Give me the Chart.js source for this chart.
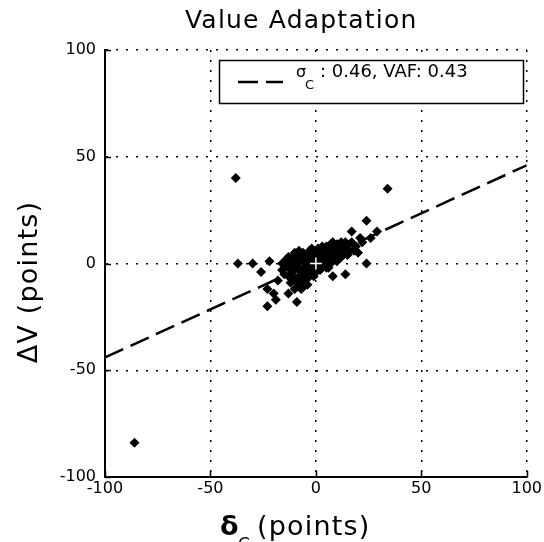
<!DOCTYPE html>
<html>
<head>
<meta charset="utf-8">
<script src="https://cdn.jsdelivr.net/npm/chart.js@4.4.1/dist/chart.umd.min.js"></script>
<style>
  body { margin: 0; background: #fff; }
</style>
</head>
<body>
<canvas id="chart" width="544" height="542"></canvas>
<script>
// change in choice value (x) vs change in value (y), one entry per trial
const deltaC = [
  -86, -38, 34, -37, -30, -26, -22, -16, -18, -20, -19, -23, -13, -9, -23,
  24, 17, 29, 20, 24, 8, 14, 17, 22, 26, -4, -13, -10, -8, -5,
  -2, 2, 5, 8, 11, 14, -15, -12, -10, -8, -6, -3, 0, 3, 6,
  9, 12, 16, 19, -11, -8, -6, -4, -2, 0, 2, 4, 7, 10, -14,
  -9, -7, -5, -1, 1, 3, 5, 8, -12, -7, -3, 1, 13, 11, -16,
  -1, 6, -10, 4, 21,
  -14, -13, -11, -11, -9, -9, -8, -7, -7, -6, -6, -5, -5, -4, -4,
  -3, -3, -2, -2, -1, -1, 0, 0, 1, 1, 2, 2, 3, 3, 4,
  4, 5, 5, 6, 6, 7, 7, 8, 9, 9, 10, 10, 12, 12, 13,
  14, 15, 16, 18, -12, -10, -8, -6, -4
];
const deltaV = [
  -84, 40, 35, 0, 0, -4, 1, 0, -8, -14, -17, -20, -14, -18, -12,
  20, 15, 15, 5, 0, -6, -5, 10, 10, 12, -10, 3, 5, 6, 4,
  7, 6, 8, 10, 9, 10, -5, -3, -7, -10, -8, -6, -4, -2, 0,
  2, 3, 6, 8, 0, -2, 1, -1, 2, 3, 1, 4, 5, 6, 2,
  3, -4, -5, -2, -1, 2, 3, 7, -9, -12, -3, 5, 7, 4, -3,
  0, -2, -12, 7, 12,
  -1, -6, -4, 3, -9, 0, 4, -7, 2, -3, 5, -9, 0, 3, -7,
  6, 0, -4, 4, -6, 6, 0, -2, 2, 7, -3, 4, 8, 0, -1,
  2, 5, -2, 7, 2, 0, 9, 3, 5, 8, 1, 9, 6, 10, 4,
  8, 4, 9, 6, 1, -2, -6, -11, -4
];

// regression line end points
const fitX = [-100, 100];
const fitY = [-44, 46];

const meanPoint = [0, 0];

const xTicks = [-100, -50, 0, 50, 100];
const yTicks = [-100, -50, 0, 50, 100];

const sigmaC = '0.46';
const vaf = '0.43';

const FONT = '"DejaVu Sans", sans-serif';

const trials = deltaC.map((x, i) => ({x: x, y: deltaV[i]}));
const fit = fitX.map((x, i) => ({x: x, y: fitY[i]}));

// text, legend box and inward tick marks drawn on top of the plot
const decorations = {
  id: 'decorations',
  afterDraw(chart) {
    const ctx = chart.ctx;
    const area = chart.chartArea;
    const xs = chart.scales.x;
    const ys = chart.scales.y;
    ctx.save();
    ctx.fillStyle = '#000';
    ctx.strokeStyle = '#000';

    // inward ticks
    ctx.lineWidth = 1.5;
    ctx.beginPath();
    yTicks.forEach(v => {
      const py = Math.round(ys.getPixelForValue(v)) + 0.5;
      ctx.moveTo(area.left, py);
      ctx.lineTo(area.left + 6, py);
    });
    xTicks.forEach(v => {
      const px = Math.round(xs.getPixelForValue(v)) + 0.5;
      ctx.moveTo(px, area.bottom);
      ctx.lineTo(px, area.bottom - 6);
    });
    ctx.stroke();

    // title
    ctx.textBaseline = 'alphabetic';
    ctx.textAlign = 'left';
    ctx.letterSpacing = '1.2px';
    ctx.font = '25px ' + FONT;
    ctx.fillText('Value Adaptation', 185, 28);

    // y axis title
    ctx.save();
    ctx.translate(37, 282);
    ctx.rotate(-Math.PI / 2);
    ctx.textAlign = 'center';
    ctx.font = '27px ' + FONT;
    ctx.fillText('ΔV (points)', 0, 0);
    ctx.restore();

    // x axis title
    ctx.font = 'bold 27px ' + FONT;
    ctx.fillText('δ', 220, 535);
    ctx.font = '17px ' + FONT;
    ctx.fillText('C', 238, 550);
    ctx.font = '27px ' + FONT;
    ctx.fillText('(points)', 257, 535);

    // legend
    ctx.letterSpacing = '0px';
    ctx.fillStyle = '#fff';
    ctx.fillRect(219, 60, 304, 43);
    ctx.lineWidth = 1.5;
    ctx.strokeRect(219.5, 60.5, 304, 43);
    const fitSet = chart.data.datasets[2];
    ctx.setLineDash(fitSet.borderDash);
    ctx.lineWidth = fitSet.borderWidth;
    ctx.beginPath();
    ctx.moveTo(238, 82);
    ctx.lineTo(283, 82);
    ctx.stroke();
    ctx.setLineDash([]);
    ctx.fillStyle = '#000';
    ctx.font = '16px ' + FONT;
    ctx.fillText('σ', 296, 77);
    ctx.font = '13px ' + FONT;
    ctx.fillText('C', 305, 89);
    ctx.font = '18px ' + FONT;
    ctx.fillText(': ' + sigmaC + ', VAF: ' + vaf, 320, 77);

    ctx.restore();
  }
};

const config = {
  type: 'scatter',
  data: {
    datasets: [{
      label: 'mean',
      data: [{x: meanPoint[0], y: meanPoint[1]}],
      pointStyle: 'cross',
      pointRadius: 6,
      borderColor: '#fff',
      borderWidth: 1.5,
      order: 0
    }, {
      label: 'trials',
      data: trials,
      pointStyle: 'rectRot',
      pointRadius: 5,
      backgroundColor: '#000',
      borderColor: '#000',
      borderWidth: 0,
      order: 1
    }, {
      label: 'fit',
      type: 'line',
      data: fit,
      borderColor: '#000',
      borderWidth: 2.5,
      borderDash: [20, 8],
      pointRadius: 0,
      fill: false,
      order: 2
    }]
  },
  options: {
    responsive: false,
    devicePixelRatio: 1,
    animation: false,
    layout: {padding: {top: 50, right: 17, left: 0, bottom: 0}},
    plugins: {
      legend: {display: false},
      title: {display: false},
      tooltip: {enabled: false}
    },
    scales: {
      x: {
        type: 'linear',
        min: -100,
        max: 100,
        afterBuildTicks: s => { s.ticks = xTicks.map(v => ({value: v})); },
        afterFit: s => { s.height = 65; },
        ticks: {color: '#000', font: {family: FONT, size: 16}, padding: 2, maxRotation: 0},
        grid: {color: '#000', lineWidth: 1.5, drawTicks: false},
        border: {display: true, color: '#000', width: 2, dash: [2, 8]}
      },
      y: {
        type: 'linear',
        min: -100,
        max: 100,
        afterBuildTicks: s => { s.ticks = yTicks.map(v => ({value: v})); },
        afterFit: s => { s.width = 105; },
        ticks: {color: '#000', font: {family: FONT, size: 16}, padding: 9},
        grid: {color: '#000', lineWidth: 1.5, drawTicks: false},
        border: {display: true, color: '#000', width: 2, dash: [2, 8]}
      }
    }
  },
  plugins: [decorations]
};

new Chart(document.getElementById('chart'), config);
</script>
</body>
</html>
